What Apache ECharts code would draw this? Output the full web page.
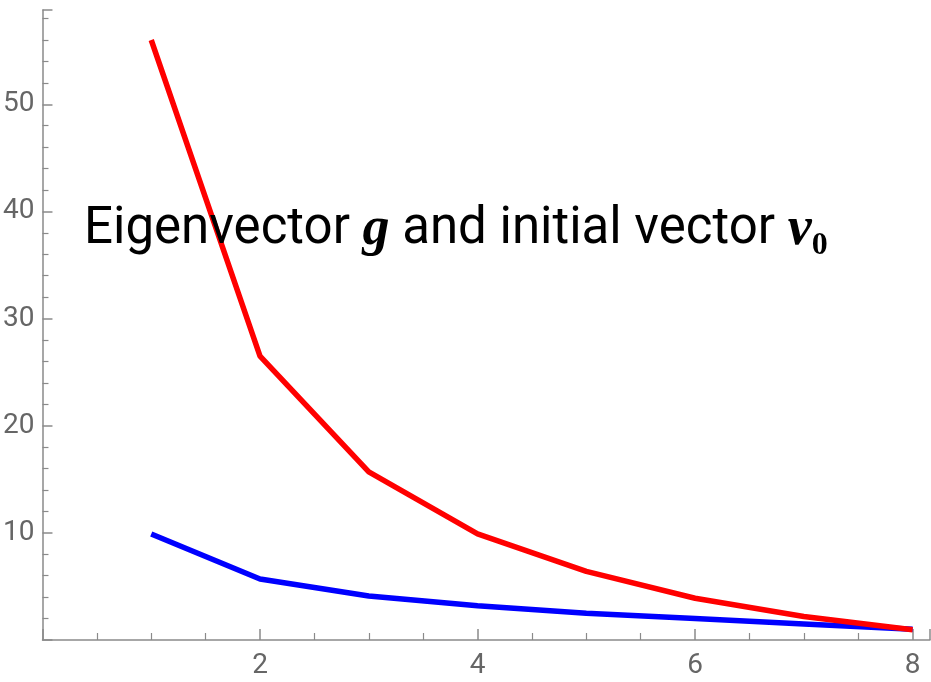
<!DOCTYPE html>
<html>
<head>
<meta charset="utf-8">
<script src="https://cdn.jsdelivr.net/npm/echarts@6/dist/echarts.min.js"></script>
<style>
  html, body { margin: 0; padding: 0; background: #fff; }
  #main { width: 931px; height: 682px; }
</style>
</head>
<body>
<div id="main"></div>
<script>
// values
var xValues = [1, 2, 3, 4, 5, 6, 7, 8];
var redValues = [56.0, 26.5, 15.7, 9.9, 6.4, 3.9, 2.2, 0.95];
var blueValues = [9.9, 5.7, 4.1, 3.2, 2.5, 2.0, 1.5, 1.0];
var xTicks = [2, 4, 6, 8];
var yTicks = [10, 20, 30, 40, 50];

function pairs(ys) {
  return xValues.map(function (x, i) { return [x, ys[i]]; });
}

var myChart = echarts.init(document.getElementById("main"));
var labelFont = "'Roboto', sans-serif";
var axisGrey = "#8a8a8a";

var options = {
  animation: false,
  backgroundColor: "#ffffff",
  title: {
    text: "{a|Eigenvector }{m|g}{a| and initial vector }{m|v}{s|0}",
    left: 79,
    top: 193,
    textStyle: {
      fontWeight: "normal",
      rich: {
        a: { fontFamily: "Roboto, sans-serif", fontWeight: "normal", fontSize: 51, color: "#000", lineHeight: 64 },
        m: { fontFamily: "'Liberation Serif', serif", fontStyle: "italic", fontWeight: "bold", fontSize: 54, color: "#000", lineHeight: 64 },
        s: { fontFamily: "'Liberation Serif', serif", fontWeight: "bold", fontSize: 32, color: "#000", lineHeight: 32, verticalAlign: "bottom" },
      },
    },
  },
  grid: {
    left: 42,
    right: 1,
    top: 10,
    bottom: 42,
  },
  xAxis: {
    type: "value",
    min: 0,
    max: 8.16,
    interval: 2,
    axisLine: { show: true, onZero: false, lineStyle: { color: axisGrey, width: 1.5 } },
    axisTick: { show: true, inside: true, length: 11, lineStyle: { color: axisGrey, width: 1.5 } },
    minorTick: { show: true, splitNumber: 4, length: 7, lineStyle: { color: axisGrey, width: 1.2 } },
    splitLine: { show: false },
    axisLabel: {
      color: "#666",
      fontSize: 28,
      fontFamily: labelFont,
      margin: 12,
      showMaxLabel: false,
      formatter: function (v) { return xTicks.indexOf(v) >= 0 ? String(v) : ""; },
    },
  },
  yAxis: {
    type: "value",
    min: 0,
    max: 58.8,
    interval: 10,
    axisLine: { show: true, lineStyle: { color: axisGrey, width: 1.5 } },
    axisTick: { show: true, inside: true, length: 10, lineStyle: { color: axisGrey, width: 1.5 } },
    minorTick: { show: true, splitNumber: 5, length: 6, lineStyle: { color: axisGrey, width: 1.2 } },
    splitLine: { show: false },
    axisLabel: {
      color: "#666",
      fontSize: 28,
      fontFamily: labelFont,
      margin: 8,
      showMaxLabel: false,
      formatter: function (v) { return yTicks.indexOf(v) >= 0 ? String(v) : ""; },
    },
  },
  series: [
    {
      type: "line",
      data: pairs(redValues),
      symbol: "none",
      z: 3,
      lineStyle: { color: "#ff0000", width: 5.5 },
    },
    {
      type: "line",
      data: pairs(blueValues),
      symbol: "none",
      z: 2,
      lineStyle: { color: "#0000ff", width: 5.5 },
    },
  ],
};
myChart.setOption(options);
</script>
</body>
</html>
